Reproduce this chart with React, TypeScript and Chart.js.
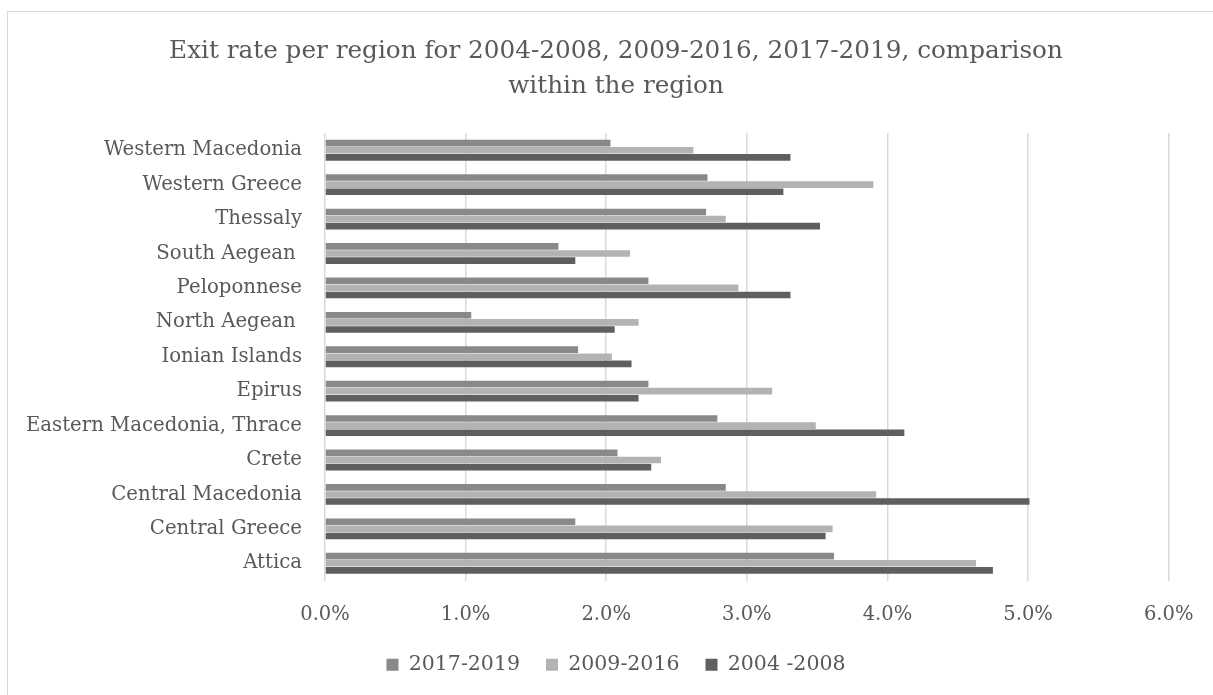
import React, { useEffect, useRef } from "react";
import { Chart, registerables } from "chart.js";

Chart.register(...registerables);

// Regions listed top to bottom as they appear on the category axis
const regions = [
  "Western Macedonia",
  "Western Greece",
  "Thessaly",
  "South Aegean ",
  "Peloponnese",
  "North Aegean ",
  "Ionian Islands",
  "Epirus",
  "Eastern Macedonia, Thrace",
  "Crete",
  "Central Macedonia",
  "Central Greece",
  "Attica",
];

// Exit rates in percent
const rate2017to2019 = [2.03, 2.72, 2.71, 1.66, 2.3, 1.04, 1.8, 2.3, 2.79, 2.08, 2.85, 1.78, 3.62];
const rate2009to2016 = [2.62, 3.9, 2.85, 2.17, 2.94, 2.23, 2.04, 3.18, 3.49, 2.39, 3.92, 3.61, 4.63];
const rate2004to2008 = [3.31, 3.26, 3.52, 1.78, 3.31, 2.06, 2.18, 2.23, 4.12, 2.32, 5.01, 3.56, 4.75];

const seriesLabels = ["2017-2019", "2009-2016", "2004 -2008"];
const xMin = 0;
const xMax = 6;
const xStep = 1;

const titleLines = [
  "Exit rate per region for 2004-2008, 2009-2016, 2017-2019, comparison",
  "within the region",
];

const TEXT = "#595959";
const FAMILY = "'DejaVu Serif', serif";

export default function App() {
  const canvasRef = useRef<HTMLCanvasElement>(null);

  useEffect(() => {
    const canvas = canvasRef.current;
    if (!canvas) return;
    const chart = new Chart(canvas, {
      type: "bar",
      data: {
        labels: regions,
        datasets: [
          { label: seriesLabels[0], data: rate2017to2019, backgroundColor: "#898989" },
          { label: seriesLabels[1], data: rate2009to2016, backgroundColor: "#b3b3b3" },
          { label: seriesLabels[2], data: rate2004to2008, backgroundColor: "#5f5f5f" },
        ],
      },
      options: {
        indexAxis: "y",
        responsive: false,
        animation: false,
        datasets: { bar: { categoryPercentage: 0.62, barPercentage: 0.93 } },
        layout: { padding: { top: 0, right: 0, bottom: 10, left: 0 } },
        scales: {
          x: {
            min: xMin,
            max: xMax,
            ticks: {
              stepSize: xStep,
              color: TEXT,
              font: { family: FAMILY, size: 19.5 },
              padding: 23,
              callback: (v: any) => Number(v).toFixed(1) + "%",
            },
            grid: { color: "#d9d9d9", lineWidth: 1.5, drawTicks: false },
            border: { display: false },
            afterFit: (s: any) => {
              s.height = 48;
            },
          },
          y: {
            ticks: {
              color: TEXT,
              font: { family: FAMILY, size: 19.7 },
              padding: 23,
              autoSkip: false,
            },
            grid: { display: false, drawTicks: false },
            border: { display: false },
            afterFit: (s: any) => {
              s.width = 325;
            },
          },
          // empty right-hand margin so the plot ends at the 6% line
          margin: {
            type: "linear",
            position: "right",
            ticks: { display: false },
            grid: { display: false, drawTicks: false },
            border: { display: false },
            afterFit: (s: any) => {
              s.width = 63.3;
            },
          },
        },
        plugins: {
          title: {
            display: true,
            text: titleLines,
            color: TEXT,
            font: { family: FAMILY, size: 24.7, weight: "normal", lineHeight: 35 / 24.7 },
            padding: { top: 34.5, bottom: 28.5 },
          },
          legend: {
            position: "bottom",
            labels: {
              boxWidth: 12,
              boxHeight: 12,
              padding: 26,
              color: TEXT,
              font: { family: FAMILY, size: 20.5 },
            },
          },
          tooltip: { enabled: false },
        },
      },
    } as any);
    return () => chart.destroy();
  }, []);

  return (
    <div
      style={{
        position: "fixed",
        left: 0,
        top: 0,
        width: 1213,
        height: 695,
        overflow: "hidden",
        background: "#ffffff",
      }}
    >
      <div
        style={{
          position: "absolute",
          left: 7,
          top: 11,
          width: 1300,
          height: 800,
          border: "1.5px solid #d9d9d9",
          boxSizing: "border-box",
        }}
      />
      <canvas
        ref={canvasRef}
        width={1232}
        height={695}
        style={{ position: "absolute", left: 0, top: 0, width: 1232, height: 695 }}
      />
    </div>
  );
}
